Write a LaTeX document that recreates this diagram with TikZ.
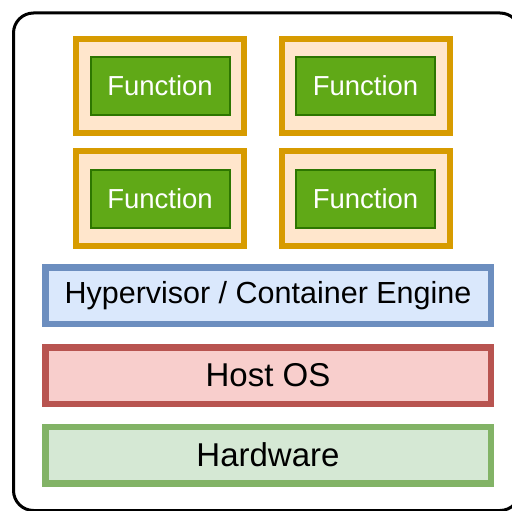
\documentclass[tikz,border=0pt]{standalone}
\usepackage{fontspec}
\setmainfont{Liberation Sans}
\definecolor{fnorange}{HTML}{D79B00}
\definecolor{fnorangefill}{HTML}{FFE6CC}
\definecolor{fngreen}{HTML}{60A917}
\definecolor{fngreenline}{HTML}{2D7600}
\definecolor{hvfill}{HTML}{DAE8FC}
\definecolor{hvline}{HTML}{6C8EBF}
\definecolor{osfill}{HTML}{F8CECC}
\definecolor{osline}{HTML}{B85450}
\definecolor{hwfill}{HTML}{D5E8D4}
\definecolor{hwline}{HTML}{82B366}
\tikzset{
  fnwrap/.style={draw=fnorange, fill=fnorangefill, line width=6pt, minimum width=168pt, minimum height=94.5pt, inner sep=0pt, outer sep=0pt},
  fnbox/.style={draw=fngreenline, fill=fngreen, line width=2pt, minimum width=139pt, minimum height=58pt, inner sep=0pt, outer sep=0pt, text=white, font=\fontsize{27.5}{30}\selectfont},
  layer/.style={line width=6.5pt, minimum width=445.5pt, minimum height=56.5pt, inner sep=0pt, outer sep=0pt, text=black},
}
\begin{document}
\begin{tikzpicture}[x=1pt, y=-1pt]
\useasboundingbox (0,0) rectangle (512,511);
\clip (0,0) rectangle (512,511);
\draw[line width=3pt, rounded corners=20pt] (13.5,13) rectangle (520,510.5);
% function wrappers
\node[fnwrap] (w1) at (160,86) {};
\node[fnwrap] (w2) at (365.5,86) {};
\node[fnwrap] (w3) at (160,198.5) {};
\node[fnwrap] (w4) at (365.5,198.5) {};
\node[fnbox] (f1) at (w1) {Function};
\node[fnbox] (f2) at (w2) {Function};
\node[fnbox] (f3) at (w3) {Function};
\node[fnbox] (f4) at (w4) {Function};
% layers
\node[layer, draw=hvline, fill=hvfill, font=\fontsize{30.5}{33}\selectfont] (hv) at (268,295.5) {Hypervisor / Container Engine};
\node[layer, draw=osline, fill=osfill, font=\fontsize{33}{36}\selectfont] (os) at (268,375.5) {Host OS};
\node[layer, draw=hwline, fill=hwfill, font=\fontsize{33}{36}\selectfont] (hw) at (268,455) {Hardware};
\end{tikzpicture}
\end{document}
